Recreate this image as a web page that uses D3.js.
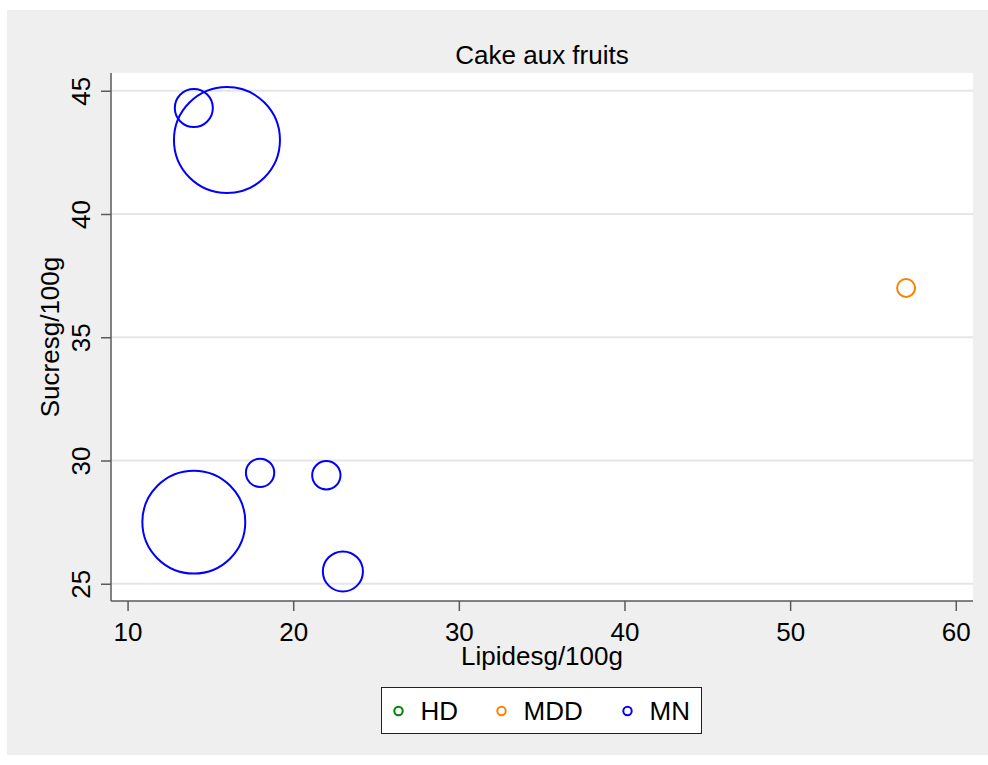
<!DOCTYPE html>
<html>
<head>
<meta charset="utf-8">
<script src="https://cdn.jsdelivr.net/npm/d3@7"></script>
<style>
  html, body { margin: 0; padding: 0; background: #ffffff; }
  svg { display: block; }
  text { font-family: "Liberation Sans", Arial, Helvetica, sans-serif; fill: #000; }
</style>
</head>
<body>
<svg id="chart" width="988" height="765"></svg>
<script>
// ---- data ----
const title = "Cake aux fruits";
const xLabel = "Lipidesg/100g";
const yLabel = "Sucresg/100g";
const categories = ["HD", "MDD", "MN"];
const categoryColors = ["#008000", "#ff7f00", "#0000ff"];

const hdLipides = [];
const hdSucres = [];
const hdPoids = [];

const mddLipides = [57];
const mddSucres = [37];
const mddPoids = [0.2];

const mnLipides = [14, 16, 14, 18, 22, 23];
const mnSucres = [44.3, 43, 27.5, 29.5, 29.4, 25.5];
const mnPoids = [0.9, 7.0, 6.6, 0.5, 0.5, 1.0];

const xTicks = [10, 20, 30, 40, 50, 60];
const yTicks = [25, 30, 35, 40, 45];

// ---- layout ----
const FS = 26;
const svg = d3.select("#chart");
const plot = { left: 111, right: 973, top: 73, bottom: 601 };

svg.append("rect").attr("x", 7).attr("y", 10).attr("width", 981).attr("height", 745).attr("fill", "#efefef");
svg.append("rect").attr("x", plot.left).attr("y", plot.top)
  .attr("width", plot.right - plot.left).attr("height", plot.bottom - plot.top).attr("fill", "#ffffff");

const x = d3.scaleLinear().domain([9, 61.04]).range([plot.left, plot.right]);
const y = d3.scaleLinear().domain([24.3, 45.72]).range([plot.bottom, plot.top]);
const allPoids = [].concat(hdPoids, mddPoids, mnPoids);
const r = d3.scaleSqrt().domain([0, d3.max(allPoids)]).range([0, 53]);

// gridlines
svg.append("g").selectAll("line").data(yTicks).join("line")
  .attr("x1", plot.left).attr("x2", plot.right)
  .attr("y1", d => y(d)).attr("y2", d => y(d))
  .attr("stroke", "#e6e6e6").attr("stroke-width", 2);

// axes
const xAxis = svg.append("g").attr("transform", `translate(0,${plot.bottom})`)
  .call(d3.axisBottom(x).tickValues(xTicks).tickSize(10).tickPadding(6).tickSizeOuter(0));
const yAxis = svg.append("g").attr("transform", `translate(${plot.left},0)`)
  .call(d3.axisLeft(y).tickValues(yTicks).tickSize(10).tickSizeOuter(0));

[xAxis, yAxis].forEach(a => {
  a.select(".domain").attr("stroke", "#5a5a5a").attr("stroke-width", 1.5);
  a.selectAll(".tick line").attr("stroke", "#5a5a5a").attr("stroke-width", 1.5);
  a.selectAll("text").attr("font-size", FS).attr("font-family", "Liberation Sans, Arial, sans-serif").attr("fill", "#000");
});
xAxis.select(".domain").attr("d", `M${plot.left},0H${plot.right}`);
yAxis.select(".domain").attr("d", `M0,${plot.top}V${plot.bottom}`);
xAxis.selectAll(".tick text").attr("dy", null).attr("y", 40);
yAxis.selectAll(".tick text")
  .attr("x", null).attr("dy", null).attr("text-anchor", "middle")
  .attr("transform", "translate(-21,0) rotate(-90)").attr("y", 0);

// titles
svg.append("text").attr("x", (plot.left + plot.right) / 2).attr("y", 64)
  .attr("text-anchor", "middle").attr("font-size", FS).text(title);
svg.append("text").attr("x", (plot.left + plot.right) / 2).attr("y", 665)
  .attr("text-anchor", "middle").attr("font-size", FS).text(xLabel);
svg.append("text").attr("transform", `translate(59,${(plot.top + plot.bottom) / 2}) rotate(-90)`)
  .attr("text-anchor", "middle").attr("font-size", FS).text(yLabel);

// bubbles
const series = [
  { lip: hdLipides, suc: hdSucres, poids: hdPoids, color: categoryColors[0] },
  { lip: mddLipides, suc: mddSucres, poids: mddPoids, color: categoryColors[1] },
  { lip: mnLipides, suc: mnSucres, poids: mnPoids, color: categoryColors[2] }
];
const gB = svg.append("g");
series.forEach(s => {
  const pts = s.lip.map((v, i) => ({ x: v, y: s.suc[i], w: s.poids[i] }));
  gB.append("g").selectAll("circle").data(pts).join("circle")
    .attr("cx", d => x(d.x)).attr("cy", d => y(d.y)).attr("r", d => r(d.w))
    .attr("fill", "none").attr("stroke", s.color).attr("stroke-width", 2);
});

// legend
const leg = svg.append("g");
leg.append("rect").attr("x", 381.5).attr("y", 687.5).attr("width", 320).attr("height", 46)
  .attr("fill", "#ffffff").attr("stroke", "#222").attr("stroke-width", 1);
const legX = [398.5, 501.5, 627.5];
categories.forEach((c, i) => {
  leg.append("circle").attr("cx", legX[i]).attr("cy", 711).attr("r", 4.2)
    .attr("fill", "none").attr("stroke", categoryColors[i]).attr("stroke-width", 2);
  leg.append("text").attr("x", legX[i] + 22).attr("y", 720).attr("font-size", FS).text(c);
});
</script>
</body>
</html>
